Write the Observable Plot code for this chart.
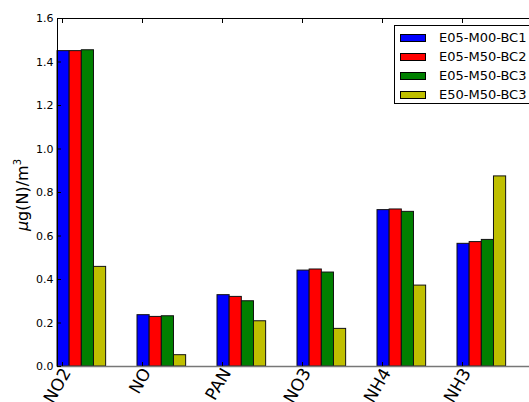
<!DOCTYPE html>
<html><head><meta charset="utf-8">
<script src="https://cdn.jsdelivr.net/npm/d3@7"></script>
<script src="https://cdn.jsdelivr.net/npm/@observablehq/plot@0.6"></script>
<style>
body{margin:0;background:#fff;font-family:"DejaVu Sans",sans-serif}
#wrap{position:relative;width:529px;height:402px;overflow:hidden}
#legend{position:absolute;left:394px;top:25px;width:160px;height:79px;border:1px solid #000;background:#fff;box-sizing:border-box}
.row{position:absolute;left:5px;height:19px;display:flex;align-items:center;font-size:13px;color:#000;white-space:nowrap}
.sw{width:26px;height:8px;border:1px solid #000;margin-right:13px;box-sizing:border-box}
</style></head>
<body>
<div id="wrap"></div>
<script>
const species = ["NO2","NO","PAN","NO3","NH4","NH3"];
const series = ["E05-M00-BC1","E05-M50-BC2","E05-M50-BC3","E50-M50-BC3"];
const colors = ["#0000ff","#ff0000","#008000","#bfbf00"];
const valsBC1 = [1.450,0.236,0.328,0.441,0.719,0.564];
const valsBC2 = [1.450,0.228,0.320,0.446,0.722,0.572];
const valsBC3 = [1.454,0.231,0.300,0.432,0.711,0.582];
const valsE50 = [0.458,0.052,0.208,0.173,0.372,0.874];
const yTicks = [0,0.2,0.4,0.6,0.8,1.0,1.2,1.4,1.6];

const allVals = [valsBC1,valsBC2,valsBC3,valsE50];
const barW = 0.152, off = 0.0625;
const xMin = -off, xMax = 5.8375;
const rows = [];
species.forEach((s,i)=>allVals.forEach((arr,j)=>rows.push({s,i,j,series:series[j],v:arr[i],x1:i-off+j*barW,x2:i-off+(j+1)*barW})));
const labels = species.map((s,i)=>({s,i}));

const svg = Plot.plot({
  width:529, height:402,
  marginLeft:57, marginRight:0, marginTop:18, marginBottom:36,
  style:{fontFamily:"DejaVu Sans, sans-serif", background:"#fff", overflow:"visible"},
  x:{domain:[xMin,xMax], axis:null},
  y:{domain:[0,1.6], axis:null},
  color:{domain:series, range:colors},
  marks:[
    Plot.rectY(rows,{x1:"x1",x2:"x2",y1:0,y2:"v",fill:"series",stroke:"#111",strokeWidth:1}),
    Plot.ruleY([0],{stroke:"#777",strokeWidth:1.5}),
    Plot.ruleY([1.6],{stroke:"#000",strokeWidth:1}),
    Plot.ruleX([xMin],{stroke:"#000",strokeWidth:1}),
    Plot.axisY({ticks:yTicks,tickSize:0,tickPadding:4,tickFormat:d3.format(".1f"),fontSize:11,label:null,color:"#000"}),
    Plot.axisY({ticks:yTicks,tickSize:-4,tickFormat:()=>"",label:null}),
    Plot.axisX({ticks:[0,1,2,3,4,5],anchor:"bottom",tickSize:-4,tickFormat:()=>"",label:null}),
    Plot.axisX({ticks:[0,1,2,3,4,5],anchor:"top",tickSize:-4,tickFormat:()=>"",label:null}),
    Plot.text(labels,{x:"i",frameAnchor:"bottom",text:"s",rotate:-60,textAnchor:"end",dx:9,dy:6,fontSize:17,fill:"#000"})
  ]
});
document.getElementById("wrap").appendChild(svg);

// y axis label
const yl = d3.select(svg).append("text")
  .attr("transform","translate(28,195) rotate(-90)")
  .attr("text-anchor","middle").attr("font-size",16).attr("fill","#000");
yl.append("tspan").attr("font-style","italic").text("μ");
yl.append("tspan").text("g(N)/m");
yl.append("tspan").attr("font-size",10).attr("dy",-7).text("3");

// legend
const lg = d3.select("#wrap").append("div").attr("id","legend");
series.forEach((s,j)=>{
  const r = lg.append("div").attr("class","row").style("top",(2+j*19)+"px");
  r.append("div").attr("class","sw").style("background",colors[j]);
  r.append("span").text(s);
});
</script>
</body></html>
